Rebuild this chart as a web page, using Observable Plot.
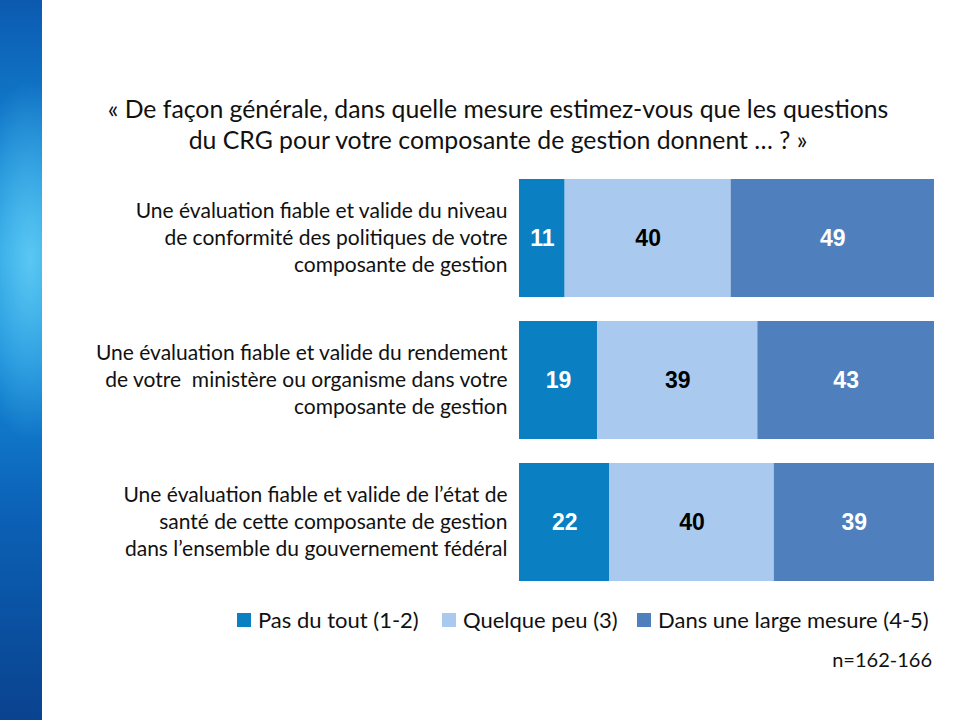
<!DOCTYPE html>
<html><head><meta charset="utf-8">
<script src="https://cdn.jsdelivr.net/npm/d3@7"></script>
<script src="https://cdn.jsdelivr.net/npm/@observablehq/plot@0.6"></script>
<style>
body{margin:0;background:#fff;}
#page{position:relative;width:960px;height:720px;overflow:hidden;background:#fff;font-family:Lato,"Open Sans",sans-serif;}
#side{position:absolute;left:0;top:0;width:42px;height:720px;z-index:2;
background:
 radial-gradient(ellipse 60px 180px at 30px 260px, rgba(110,215,250,0.75), rgba(110,215,250,0) 100%),
 linear-gradient(to bottom,#0b5ab0 0%,#1380cf 20%,#1e9ae0 35%,#1488d6 50%,#0c63b8 70%,#0a4f9f 88%,#0a4390 100%);}
#title{position:absolute;left:40px;width:916px;top:93px;text-align:center;font-size:24.8px;line-height:31px;color:#111;}
#chart{position:absolute;left:0;top:160px;}
#legend{position:absolute;top:606px;left:0;width:960px;height:30px;font-size:22px;color:#111;}
.li{position:absolute;display:flex;align-items:center;}
.sw{width:14px;height:14px;margin-right:7px;}
#n{position:absolute;top:647px;right:28px;font-size:20px;color:#111;}
</style></head>
<body><div id="page">
<div id="side"></div>
<div id="title">« De façon générale, dans quelle mesure estimez-vous que les questions<br>du CRG pour votre composante de gestion donnent … ? »</div>
<div id="chart"></div>
<div id="legend"></div>
<div id="n">n=162-166</div>
</div>
<script>
const rows = ["Niveau de conformité", "Rendement", "État de santé"];
const rowLabels = [
  ["Une évaluation fiable et valide du niveau", "de conformité des politiques de votre", "composante de gestion"],
  ["Une évaluation fiable et valide du rendement", "de votre  ministère ou organisme dans votre", "composante de gestion"],
  ["Une évaluation fiable et valide de l’état de", "santé de cette composante de gestion", "dans l’ensemble du gouvernement fédéral"]
];
const categories = ["Pas du tout (1-2)", "Quelque peu (3)", "Dans une large mesure (4-5)"];
const colors = ["#0a7fc1", "#a9caee", "#4f80bd"];
const textColors = ["#ffffff", "#000000", "#ffffff"];
const pasDuTout = [11, 19, 22];
const quelquePeu = [40, 39, 40];
const largeMesure = [49, 43, 39];
const series = [pasDuTout, quelquePeu, largeMesure];

const data = [];
rows.forEach((r, i) => categories.forEach((c, j) => data.push({row: r, cat: c, value: series[j][i]})));
const labelData = rows.map((r, i) => ({row: r, lines: rowLabels[i]}));

const lineMarks = [0, 1, 2].map(k => Plot.text(labelData, {
  x: () => 0, y: "row", text: d => d.lines[k], dy: (k - 1) * 27, dx: -12,
  textAnchor: "end", fontSize: 21, fill: "#111"
}));

const chart = Plot.plot({
  width: 960,
  height: 430,
  marginLeft: 519,
  marginRight: 26,
  marginTop: 19,
  marginBottom: 9,
  style: {background: "transparent", fontFamily: "Lato, 'Open Sans', sans-serif", overflow: "visible"},
  x: {domain: [0, 1], axis: null},
  y: {domain: rows, paddingInner: 0.17, paddingOuter: 0, axis: null},
  color: {domain: categories, range: colors},
  marks: [
    Plot.barX(data, Plot.stackX({x: "value", y: "row", fill: "cat", offset: "normalize", order: null})),
    Plot.text(data, Plot.stackX({x: "value", y: "row", z: "cat", offset: "normalize", order: null,
      text: d => String(d.value),
      fill: d => textColors[categories.indexOf(d.cat)],
      fontFamily: "'Liberation Sans', Arial, sans-serif", fontWeight: "bold", fontSize: 23})),
    ...lineMarks
  ]
});
document.getElementById("chart").appendChild(chart);

const legend = document.getElementById("legend");
const lx = [237, 442, 637];
categories.forEach((c, i) => {
  const el = document.createElement("div");
  el.className = "li";
  el.style.left = lx[i] + "px";
  el.innerHTML = `<div class="sw" style="background:${colors[i]}"></div><span>${c}</span>`;
  legend.appendChild(el);
});
</script>
</body></html>
